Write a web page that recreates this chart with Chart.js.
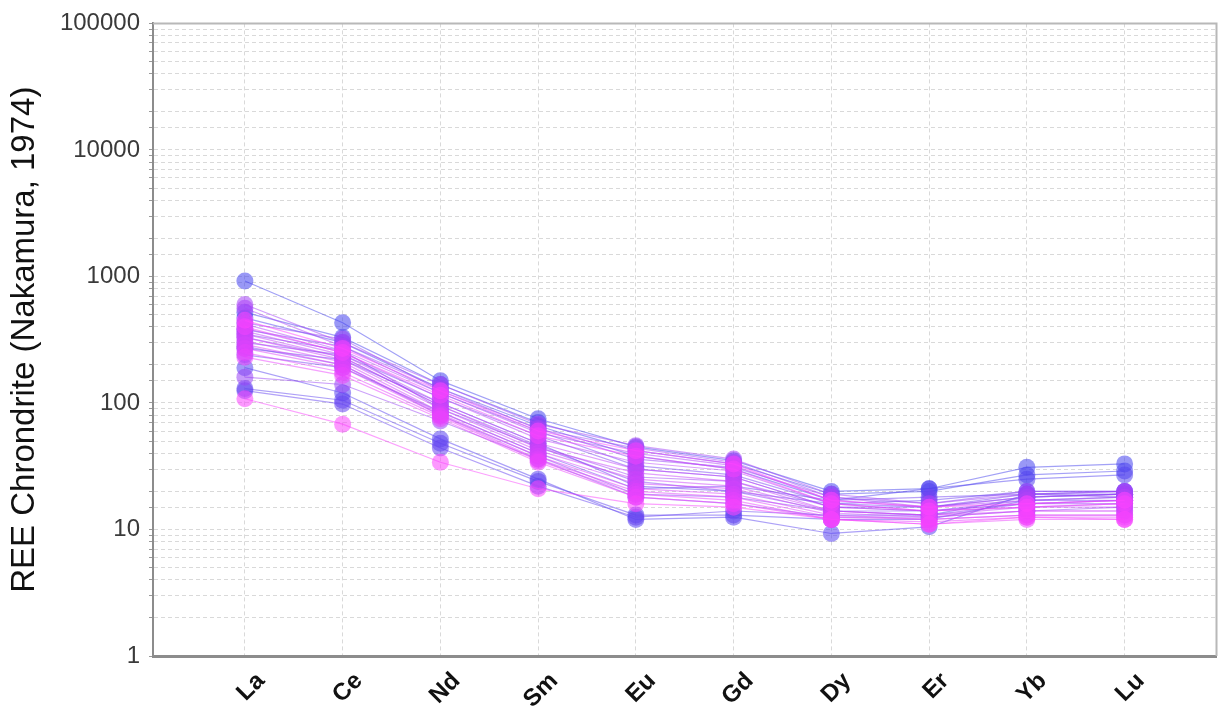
<!DOCTYPE html>
<html>
<head>
<meta charset="utf-8">
<title>REE Chondrite</title>
<script src="https://cdn.jsdelivr.net/npm/chart.js@4/dist/chart.umd.min.js"></script>
<style>
  html, body { margin: 0; padding: 0; background: #fff; }
  #wrap { width: 1225px; height: 707px; }
</style>
</head>
<body>
<div id="wrap"><canvas id="ree"></canvas></div>
<script>
// Rare earth elements along the x axis
var elements = ['La', 'Ce', 'Nd', 'Sm', 'Eu', 'Gd', 'Dy', 'Er', 'Yb', 'Lu'];

// Chondrite-normalised values, one entry per sample (same order in every list)
var la = [920, 520, 470, 190, 130, 125, 270, 240, 380, 300, 350, 280, 430, 160, 330, 600, 560, 420, 390, 370, 350, 330, 310, 290, 270, 250, 230, 400, 108, 450];
var ce = [430, 330, 300, 120, 105, 98, 220, 190, 280, 240, 260, 200, 320, 140, 230, 300, 280, 260, 250, 240, 230, 220, 210, 200, 190, 175, 165, 250, 68, 270];
var nd = [150, 140, 130, 52, 48, 44, 100, 85, 120, 110, 90, 80, 125, 72, 95, 140, 130, 120, 110, 100, 95, 90, 85, 82, 80, 78, 75, 115, 34, 125];
var sm = [75, 70, 66, 25, 24, 22, 48, 40, 60, 55, 45, 38, 63, 36, 46, 68, 62, 58, 52, 48, 44, 42, 40, 38, 36, 35, 34, 55, 21, 60];
var eu = [45, 42, 38, 12, 13, 12.5, 22, 21, 32, 30, 24, 19, 36, 18, 26, 46, 44, 40, 34, 30, 28, 25, 23, 21, 20, 19, 18, 38, 16, 42];
var gd = [35, 33, 30, 12.5, 13, 14, 20, 22, 27, 26, 20, 18, 31, 16, 24, 36, 34, 32, 29, 26, 24, 22, 21, 19, 18, 17, 16, 30, 15, 33];
var dy = [20, 19, 17, 9.3, 12, 13, 16, 17, 16, 15, 14, 14, 18, 12.5, 15, 19, 18, 17, 16, 15, 14, 14, 13.5, 13, 12.5, 12, 12, 16, 12, 17];
var er = [21, 20, 21, 10.5, 12, 13, 17, 18, 15, 15, 14, 13, 16, 12.5, 14, 16, 15, 15, 14, 14, 13, 13, 12.5, 12, 12, 11.5, 11, 14, 11, 15];
var yb = [31, 27, 25, 19, 17, 18, 20, 19, 18, 19, 17, 16, 20, 14, 16, 19, 18, 17, 16, 15, 15, 14, 14, 13, 13, 12.5, 12, 15, 12.5, 16];
var lu = [33, 29, 27, 20, 18, 19, 20, 19, 19, 18, 17, 17, 20, 15, 16, 20, 19, 18, 17, 16, 15, 14, 14, 13, 13, 12.5, 12, 16, 12, 17];

var columns = [la, ce, nd, sm, eu, gd, dy, er, yb, lu];
var nSamples = la.length;

// colour runs from blue (first sample) to magenta (last sample)
function sampleColour(i, alpha) {
	var t = i / (nSamples - 1);
	var r = Math.round(70 + (255 - 70) * t);
	var g = 68;
	var b = Math.round(238 + (255 - 238) * t);
	return 'rgba(' + r + ',' + g + ',' + b + ',' + alpha + ')';
}

var datasets = [];
for (var i = 0; i < nSamples; i++) {
	var pts = [];
	for (var j = 0; j < elements.length; j++) {
		pts.push({x: j, y: columns[j][i]});
	}
	datasets.push({
		data: pts,
		borderColor: sampleColour(i, 0.5),
		backgroundColor: sampleColour(i, 0.55),
		pointBackgroundColor: sampleColour(i, 0.55),
		pointBorderColor: sampleColour(i, 0.0),
		pointRadius: 8.5,
		pointBorderWidth: 0,
		borderWidth: 1.2,
		order: nSamples - i
	});
}

// light frame on top and right of the plot area
var frame = {
	id: 'frame',
	afterDraw: function(chart) {
		var a = chart.chartArea, ctx = chart.ctx;
		ctx.save();
		ctx.strokeStyle = '#b8b8b8';
		ctx.lineWidth = 2;
		ctx.beginPath();
		ctx.moveTo(a.left, a.top);
		ctx.lineTo(a.right, a.top);
		ctx.lineTo(a.right, a.bottom);
		ctx.stroke();
		ctx.restore();
	}
};

var gridDash = [4, 3];

new Chart(document.getElementById('ree'), {
	type: 'line',
	data: {datasets: datasets},
	plugins: [frame],
	options: {
		responsive: true,
		maintainAspectRatio: false,
		animation: false,
		layout: {padding: {top: 22, right: 5, left: 0, bottom: 0}},
		plugins: {legend: {display: false}, tooltip: {enabled: false}},
		scales: {
			x: {
				type: 'linear',
				min: -0.94,
				max: 9.94,
				afterBuildTicks: function(scale) {
					scale.ticks = elements.map(function(e, k) { return {value: k}; });
				},
				afterFit: function(scale) { scale.height = 51; },
				ticks: {
					autoSkip: false,
					minRotation: 45,
					maxRotation: 45,
					labelOffset: 16,
					padding: 11,
					color: '#111',
					font: {family: 'Liberation Sans, Arial, sans-serif', size: 24, weight: 'bold'},
					callback: function(v) { return elements[v] || ''; }
				},
				grid: {color: '#d9d9d9', lineWidth: 1, tickLength: 0, drawTicks: false},
				border: {display: true, color: '#8c8c8c', width: 3, dash: gridDash}
			},
			y: {
				type: 'logarithmic',
				min: 1,
				max: 100000,
				afterFit: function(scale) { scale.width = 153; },
				title: {
					display: true,
					text: 'REE Chrondrite (Nakamura, 1974)',
					color: '#111',
					font: {family: 'Liberation Sans, Arial, sans-serif', size: 33},
					padding: {top: 5, bottom: 0}
				},
				ticks: {
					autoSkip: false,
					color: '#3a3a3a',
					padding: 9,
					font: {family: 'Liberation Sans, Arial, sans-serif', size: 24},
					callback: function(v) {
						var p = Math.log10(v);
						return Math.abs(p - Math.round(p)) < 1e-9 ? String(v) : '';
					}
				},
				grid: {color: '#d9d9d9', lineWidth: 1, tickLength: 4, tickColor: '#999'},
				border: {display: true, color: '#8c8c8c', width: 2, dash: gridDash}
			}
		}
	}
});
</script>
</body>
</html>
